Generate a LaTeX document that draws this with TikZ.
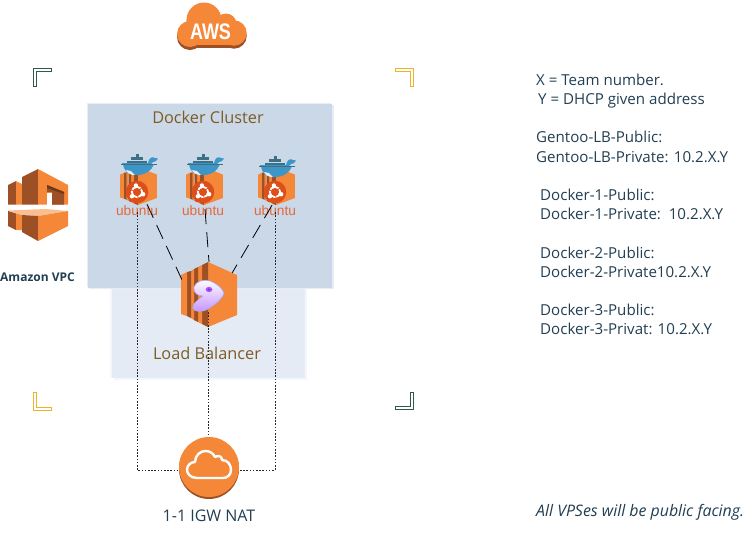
\documentclass[tikz,border=0pt]{standalone}
\usepackage{fontspec}
\setmainfont{Open Sans}
\newfontfamily\awsfont{Liberation Sans}
\usetikzlibrary{calc}
\definecolor{awsorange}{RGB}{245,136,56}
\definecolor{awsdark}{RGB}{157,80,38}
\definecolor{awslight}{RGB}{250,190,145}
\definecolor{inktext}{RGB}{33,62,82}
\definecolor{brownlabel}{RGB}{125,92,36}
\definecolor{ubuorange}{RGB}{222,78,24}
\definecolor{bracketgreen}{RGB}{48,88,76}
\definecolor{bracketgold}{RGB}{240,178,40}
\definecolor{clusterblue}{RGB}{203,216,232}
\definecolor{lbblue}{RGB}{228,235,244}
\definecolor{whaleblue}{RGB}{62,150,200}
\definecolor{whaleteal}{RGB}{62,112,132}
\tikzset{
  note/.style={anchor=base west,inner sep=0pt,text=inktext,font=\fontsize{15.1}{17}\selectfont},
  plabel/.style={inner sep=0pt,font=\fontsize{16.3}{18}\selectfont,text=brownlabel},
  box/.style={inner sep=0pt,minimum width=37pt,minimum height=45pt},
  dashline/.style={black,line width=.8pt,dash pattern=on 15pt off 8pt},
  dotline/.style={black!85,line width=.8pt,dash pattern=on 1.6pt off 1.6pt},
  bracketline/.style={fill=white,line width=.8pt,line join=miter},
}
\newcommand{\hexicon}{%
  % drawn in a 56 x 65 box
  \fill[awsorange] (27,0) -- (56,13) -- (56,53) -- (27,65) -- cycle;
  \fill[awsdark] (27,0) -- (21,3) -- (21,62) -- (27,65) -- cycle;
  \fill[awsorange] (21,3) -- (17,5) -- (17,60) -- (21,62) -- cycle;
  \fill[awsdark] (17,5) -- (13,7) -- (13,58) -- (17,60) -- cycle;
  \fill[awsorange] (13,7) -- (10,9) -- (10,56) -- (13,58) -- cycle;
  \fill[awsdark] (10,9) -- (6,10) -- (6,54) -- (10,56) -- cycle;
  \fill[awsorange] (6,10) -- (0,13) -- (0,52) -- (6,54) -- cycle;
}
% #1 name, #2 x offset, #3 extra y offset of the whale
\newcommand{\ubuvm}[3]{%
  \node[box] (#1) at (#2+137,189.5) {};
  \begin{scope}[shift={(#2,0)}]
    \begin{scope}[shift={(120,167)},x=.66pt,y=-.585pt]\hexicon\end{scope}
    % whale
    \begin{scope}[shift={(0,#3)}]
    \foreach \cx/\cy in {127/160.5,131/160.5,135/160.5,139/160.5,143/160.5,131/157,135/157,139/157,135.5/153.5}
      \fill[whaleteal] (\cx,\cy) rectangle ++(3.5,3.1);
    \fill[whaleblue] (122,164) -- (151,164) .. controls (152,162) and (154,162) .. (156,161) -- (158,158.5) -- (155,158)
      .. controls (152,156) and (149,158) .. (148,163) -- (122,163) -- cycle;
    \fill[whaleblue] (123,164) .. controls (124,173) and (132,176) .. (139,175)
      .. controls (147,174) and (152,170) .. (154,164) -- cycle;
    \fill[white!85!whaleblue] (126,170) .. controls (128,174) and (131,175) .. (135,175) -- (131,171) -- cycle;
    \draw[whaleteal,line width=.6pt] (121,164.5) -- (157,164.5);
    \end{scope}
    % ubuntu badge
    \fill[ubuorange] (137,192) circle (11.3);
    \draw[white,line width=1.8pt] (137,192) circle (5.2);
    \foreach \a in {80,200,320}
      \fill[white] (137,192) ++(\a:-6.6) circle (2.2);
    \foreach \a in {20,140,260}
      \draw[ubuorange,line width=.8pt] (137,192) ++(\a:-3.5) -- ++(\a:-4);
    \node[inner sep=0pt,text=ubuorange!85!white,font=\awsfont\fontsize{13.7}{14}\selectfont] (#1t) at (137,211) {ubuntu};
  \end{scope}
}
\begin{document}
\begin{tikzpicture}[x=1pt,y=-1pt]
\useasboundingbox (0,0) rectangle (756,550);
% panels
\fill[lbblue!45!white] (110,288) rectangle (304,378);
\fill[lbblue!45!white] (114,288) rectangle (307,380);
\fill[lbblue] (112,285) rectangle (305,378);
\fill[clusterblue!45!white] (87,103) rectangle (331,287);
\fill[clusterblue!45!white] (89,105) rectangle (334,289);
\fill[clusterblue] (88,104) rectangle (332,288);
\node[plabel] (clusterlabel) at (208,117) {Docker Cluster};
\node[plabel] (lblabel) at (207,353) {Load Balancer};
% brackets
\draw[bracketline,draw=bracketgreen] (33.5,68.5) -- (51.5,68.5) -- (51.5,71.5) -- (36.5,71.5) -- (36.5,86.5) -- (33.5,86.5) -- cycle;
\draw[bracketline,draw=bracketgold] (395.5,68.5) -- (413.5,68.5) -- (413.5,86.5) -- (410.5,86.5) -- (410.5,71.5) -- (395.5,71.5) -- cycle;
\draw[bracketline,draw=bracketgold] (33.5,392.5) -- (36.5,392.5) -- (36.5,407.5) -- (51.5,407.5) -- (51.5,410.5) -- (33.5,410.5) -- cycle;
\draw[bracketline,draw=bracketgreen] (410.5,392.5) -- (413.5,392.5) -- (413.5,409.5) -- (395.5,409.5) -- (395.5,406.5) -- (410.5,406.5) -- cycle;
% AWS cloud
\foreach \off/\col in {3/awsdark,0/awsorange}{
  \begin{scope}[yshift=-\off pt]
    \fill[\col] (204,20) circle (17.5);
    \fill[\col] (226,24) circle (10.5);
    \fill[\col] (190,34) circle (13);
    \fill[\col] (234,33) circle (12.7);
    \fill[\col] (190,24) rectangle (234,45);
    \fill[\col] (222,21) rectangle (232,30);
  \end{scope}
}
\node[inner sep=0pt,text=white,font=\awsfont\bfseries\fontsize{22.5}{23}\selectfont,xscale=.8] (awstext) at (210.5,31.5) {AWS};
% VPC icon
\fill[awsdark] (8,185) -- (16,181) -- (16,204.5) -- (8,204.5) -- cycle;
\fill[awsorange] (16,181) -- (22,184) -- (22,204.5) -- (16,204.5) -- cycle;
\fill[awsdark] (22,177) -- (38,169) -- (38,204.5) -- (22,204.5) -- cycle;
\fill[awsorange] (38,169) -- (68,185) -- (68,204.5) -- (38,204.5) -- cycle;
\fill[awsdark] (47,185) -- (64,192) -- (64,204.5) -- (52,204.5) -- (52,192) -- (47,192) -- cycle;
\fill[awsdark!70!black] (47,185) -- (64,192) -- (64,194) -- (47,188) -- cycle;
\fill[white] (47,193) -- (52,193) -- (52,204.5) -- (47,204.5) -- cycle;
\fill[awslight] (8,210.5) -- (46,209) -- (68,211) -- (38,216) -- (22,215) -- (16,213.5) -- cycle;
\fill[awsdark] (8,211) -- (16,213.5) -- (16,230) -- (8,226) -- cycle;
\fill[awsorange] (16,213.5) -- (22,215) -- (22,230) -- (16,230) -- cycle;
\fill[awsdark] (22,215) -- (38,216) -- (38,241) -- (22,232) -- cycle;
\fill[awsorange] (38,216) -- (68,211) -- (68,226) -- (38,241) -- cycle;
\node[inner sep=0pt,text=inktext,font=\fontsize{12}{13}\selectfont\bfseries] (vpclabel) at (37.5,277) {Amazon VPC};
% ubuntu hosts
\ubuvm{u1}{0}{0}
\ubuvm{u2}{66}{0}
\ubuvm{u3}{138}{2}
% load balancer
\node[inner sep=0pt,minimum width=56pt,minimum height=65pt] (lb) at (209,294.5) {};
\begin{scope}[shift={(181,262)}]\hexicon\end{scope}
\fill[top color=white,bottom color=white!72!blue!80!magenta,draw=black!10!blue!30!white,line width=.7pt]
  (194,287) .. controls (196,281) and (204,279) .. (210,281)
  .. controls (216,283) and (222,288) .. (224,293)
  .. controls (222,300) and (213,306) .. (206,310)
  .. controls (201,312) and (194,312) .. (193,308)
  .. controls (192,304) and (198,300) .. (203,296)
  .. controls (198,296) and (193,293) .. (194,287) -- cycle;
\fill[white!50!blue!60!magenta] (209,289.5) ellipse (3.4 and 2.6);
\fill[blue!55!black!70] (209,289.5) ellipse (1.3 and 1);
% connectors
\draw[dashline] ([xshift=10pt,yshift=8pt]u1.south) -- ([xshift=1pt,yshift=15pt]lb.west);
\draw[dashline] ([xshift=2pt,yshift=3pt]u2.south) -- (lb.north);
\draw[dashline] ([xshift=-3pt,yshift=7pt]u3.south) -- ([xshift=-5pt,yshift=-11pt]lb.north east);
% gateway
\fill[awsdark] (209,469) circle (30);
\node[circle,fill=awsorange,inner sep=0pt,minimum size=60pt] (igw) at (209,467) {};
\draw[dotline] (u1.south) |- ([yshift=-3pt]igw.west);
\draw[dotline] (u3.south) |- ([yshift=-3pt]igw.east);
\draw[dotline] ([xshift=-1pt,yshift=15pt]lb.south) -- ([xshift=-1pt]igw.north);
\draw[white,line width=2.4pt,line join=round]
  (197,478) .. controls (190,478) and (187,473) .. (187,470)
  .. controls (187,465) and (191,462) .. (195,462)
  .. controls (195,455) and (201,451) .. (205,451)
  .. controls (210,451) and (213,453) .. (215,457)
  .. controls (218,455) and (222,456) .. (222,460)
  .. controls (228,460) and (231,465) .. (231,470)
  .. controls (231,475) and (227,478) .. (223,478) -- cycle;
\node[inner sep=0pt,text=inktext,font=\fontsize{16}{18}\selectfont] (igwlabel) at (209,516) {1-1 IGW NAT};
% notes
\node[note] (n1) at (536,85) {X = Team number.};
\node[note] (n2) at (538,104) {Y = DHCP given address};
\node[note] (n3) at (536,142) {Gentoo-LB-Public:};
\node[note] (n4) at (536,162) {Gentoo-LB-Private: 10.2.X.Y};
\node[note] (n5) at (540,200) {Docker-1-Public:};
\node[note] (n6) at (540,219) {Docker-1-Private:\ \ 10.2.X.Y};
\node[note] (n7) at (540,258) {Docker-2-Public:};
\node[note] (n8) at (540,277) {Docker-2-Private10.2.X.Y};
\node[note] (n9) at (540,315) {Docker-3-Public:};
\node[note] (n10) at (540,334) {Docker-3-Privat: 10.2.X.Y};
\node[note,font=\fontsize{15.9}{18}\selectfont\itshape] (n11) at (536,516) {All VPSes will be public facing.};
\end{tikzpicture}
\end{document}
